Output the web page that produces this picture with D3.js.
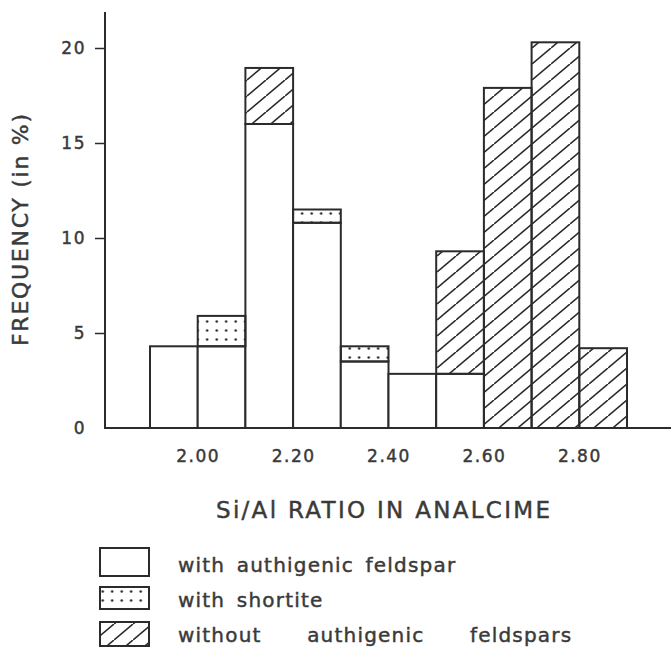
<!DOCTYPE html>
<html>
<head>
<meta charset="utf-8">
<script src="https://cdn.jsdelivr.net/npm/d3@7"></script>
<style>
  body { margin: 0; background: #fff; }
  text { font-family: "DejaVu Sans", sans-serif; fill: #3a3a3a; stroke: #3a3a3a; stroke-width: 0.45px; }
</style>
</head>
<body>
<div id="chart"></div>
<script>
// lower edge of each Si/Al bin (width 0.10)
const binStarts = [1.90, 2.00, 2.10, 2.20, 2.30, 2.40, 2.50, 2.60, 2.70, 2.80];
const withFeldspar = [4.3, 4.3, 16.0, 10.8, 3.5, 2.85, 2.85, 0, 0, 0];
const withShortite = [0, 1.6, 0, 0.7, 0.8, 0, 0, 0, 0, 0];
const withoutFeldspar = [0, 0, 2.95, 0, 0, 0, 6.45, 17.9, 20.3, 4.2];
const xTicks = [2.0, 2.2, 2.4, 2.6, 2.8];
const yTicks = [0, 5, 10, 15, 20];
const legendLabels = ["with authigenic feldspar", "with shortite", "without authigenic feldspars"];

const width = 671, height = 657;
const ink = "#2b2b2b";

const svg = d3.select("#chart").append("svg")
    .attr("width", width)
    .attr("height", height);

const defs = svg.append("defs");

// dotted fill for the shortite part
const dots = defs.append("pattern")
    .attr("id", "dots")
    .attr("patternUnits", "userSpaceOnUse")
    .attr("width", 9.5).attr("height", 9)
    .attr("x", 3).attr("y", 2);
dots.append("circle").attr("cx", 4.7).attr("cy", 4.5).attr("r", 1.3).attr("fill", ink);

// diagonal hatching
const hw = 19, hh = 16;
const hatch = defs.append("pattern")
    .attr("id", "hatch")
    .attr("patternUnits", "userSpaceOnUse")
    .attr("width", hw).attr("height", hh);
hatch.append("path")
    .attr("d", `M0,${hh} L${hw},0 M${-hw},${hh} L0,0 M${hw},${2 * hh} L${2 * hw},${hh} M${-hw / 2},${hh * 1.5} L${hw / 2},${hh / 2}`)
    .attr("stroke", ink).attr("stroke-width", 1.6);

const x = d3.scaleLinear().domain([1.9, 2.9]).range([150, 627]);
const y = d3.scaleLinear().domain([0, 20]).range([428, 48]);

const table = binStarts.map((b, i) => ({
    bin: b,
    feldspar: withFeldspar[i],
    shortite: withShortite[i],
    without: withoutFeldspar[i]
}));
const keys = ["feldspar", "shortite", "without"];
const fills = { feldspar: "#fff", shortite: "url(#dots)", without: "url(#hatch)" };
const series = d3.stack().keys(keys)(table);

series.forEach(s => {
    svg.append("g")
        .selectAll("rect")
        .data(s.filter(d => d[1] - d[0] > 0))
        .enter()
        .append("rect")
        .attr("x", d => x(d.data.bin))
        .attr("width", d => x(d.data.bin + 0.1) - x(d.data.bin))
        .attr("y", d => y(d[1]))
        .attr("height", d => y(d[0]) - y(d[1]))
        .attr("fill", fills[s.key])
        .attr("stroke", ink)
        .attr("stroke-width", 2);
});

// axes
const xAxis = svg.append("g")
    .attr("transform", `translate(0,${y(0)})`)
    .call(d3.axisBottom(x).tickValues(xTicks).tickFormat(d3.format(".2f")).tickSize(0).tickPadding(22));
xAxis.select(".domain").remove();
xAxis.selectAll("text").style("font-size", "17px").style("letter-spacing", "1.5px").attr("fill", "#3a3a3a");

svg.append("line")
    .attr("x1", 104).attr("x2", width)
    .attr("y1", y(0)).attr("y2", y(0))
    .attr("stroke", ink).attr("stroke-width", 2);

const yAxis = svg.append("g")
    .attr("transform", "translate(105,0)")
    .call(d3.axisLeft(y).tickValues(yTicks).tickSize(10).tickPadding(9));
yAxis.select(".domain").remove();
yAxis.selectAll(".tick line").attr("stroke", ink).attr("stroke-width", 1.5);
yAxis.selectAll(".tick").filter(d => d === 0).select("line").remove();
yAxis.selectAll("text").style("font-size", "17px").style("letter-spacing", "1.5px").attr("fill", "#3a3a3a");

svg.append("line")
    .attr("x1", 105).attr("x2", 105)
    .attr("y1", 12).attr("y2", y(0))
    .attr("stroke", ink).attr("stroke-width", 2);

// axis titles
svg.append("text")
    .attr("transform", "translate(28,230) rotate(-90)")
    .attr("text-anchor", "middle")
    .attr("textLength", 232)
    .attr("lengthAdjust", "spacing")
    .style("font-size", "22px")
    .text("FREQUENCY (in %)");

svg.append("text")
    .attr("x", 383).attr("y", 518)
    .attr("text-anchor", "middle")
    .attr("textLength", 334)
    .attr("lengthAdjust", "spacing")
    .style("font-size", "23px")
    .text("Si/Al RATIO IN ANALCIME");

// legend
const legendRows = [
    { y: 548, h: 28, base: 572, gap: 4, fill: "#fff" },
    { y: 587, h: 22, base: 607, gap: 4, fill: "url(#dots)" },
    { y: 622, h: 24, base: 642, gap: 38, fill: "url(#hatch)" }
];
legendRows.forEach((r, i) => {
    svg.append("rect")
        .attr("x", 100).attr("y", r.y)
        .attr("width", 49).attr("height", r.h)
        .attr("fill", r.fill)
        .attr("stroke", ink).attr("stroke-width", 2);
    svg.append("text")
        .attr("x", 178).attr("y", r.base)
        .style("font-size", "20px")
        .style("letter-spacing", "1.2px")
        .style("word-spacing", r.gap + "px")
        .text(legendLabels[i]);
});
</script>
</body>
</html>
